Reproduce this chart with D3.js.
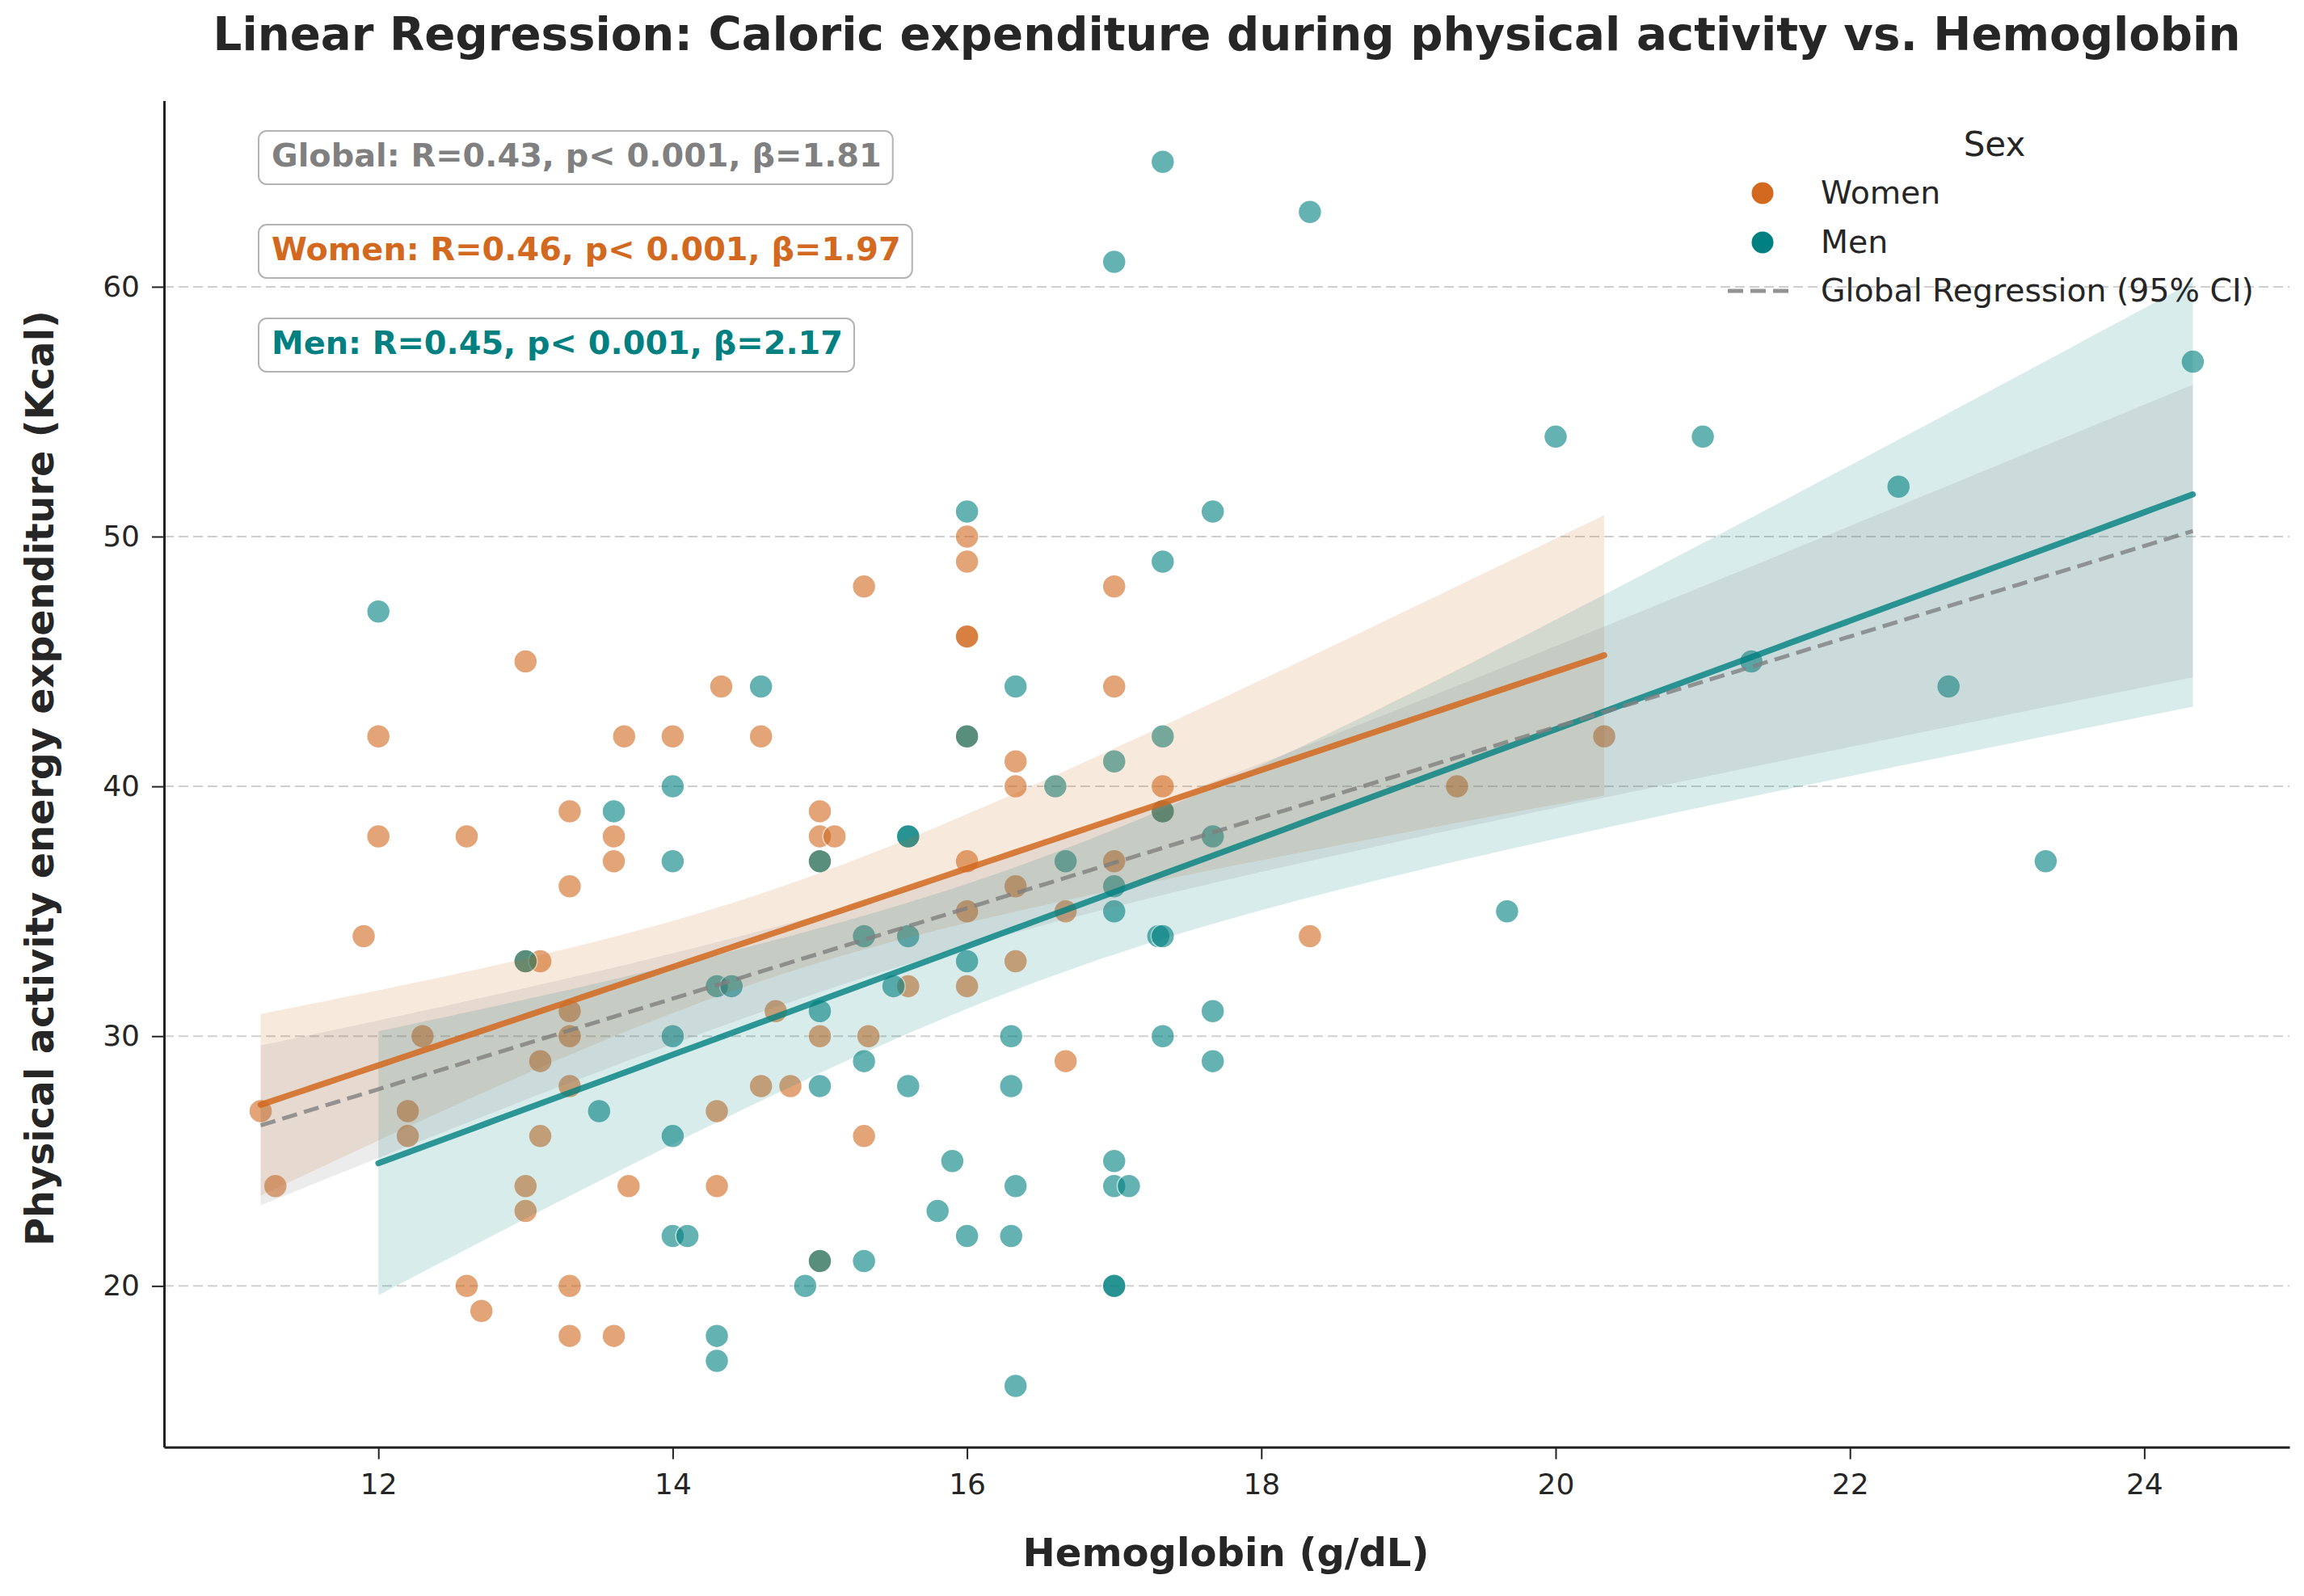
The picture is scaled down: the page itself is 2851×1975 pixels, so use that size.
<!DOCTYPE html>
<html><head><meta charset="utf-8">
<script src="https://cdn.jsdelivr.net/npm/d3@7"></script>
<style>body{margin:0;background:#fff;} svg{display:block;}</style>
</head><body>
<script>
// ---------------- data ----------------
const titleText = "Linear Regression: Caloric expenditure during physical activity vs. Hemoglobin";
const xLabelText = "Hemoglobin (g/dL)";
const yLabelText = "Physical activity energy expenditure (Kcal)";
const xTicks = [12, 14, 16, 18, 20, 22, 24];
const yTicks = [20, 30, 40, 50, 60];
const legendTitle = "Sex";
const sexes = ["Women", "Men"];
const globalLegend = "Global Regression (95% CI)";
const statLabels = [
  "Global: R=0.43, p< 0.001, β=1.81",
  "Women: R=0.46, p< 0.001, β=1.97",
  "Men: R=0.45, p< 0.001, β=2.17"
];

const womenHb = [11.2,11.3,11.9,12,12,12.2,12.2,12.3,12.6,12.6,12.7,13,13,13,13,13.1,13.1,13.1,13.3,13.3,13.3,13.3,13.3,13.3,13.3,13.6,13.6,13.6,13.67,13.7,14,14.3,14.3,14.33,14.6,14.6,14.7,14.8,15,15,15,15,15,15.1,15.3,15.3,15.33,15.6,16,16,16,16,16,16,16,16,16.33,16.33,16.33,16.33,16.67,16.67,17,17,17,17.33,17.33,18.33,19.33,20.33];
const womenKcal = [27,24,34,42,38,27,26,30,38,20,19,45,33,24,23,33,29,26,39,36,31,30,28,20,18,38,37,18,42,24,42,27,24,44,42,28,31,28,39,38,37,30,21,38,48,26,30,32,50,49,46,46,42,37,35,32,41,40,36,33,35,29,48,44,37,40,39,34,40,42];

const menHb = [12,13,13.5,13.6,14,14,14,14,14,14.1,14.3,14.3,14.3,14.4,14.6,14.9,15,15,15,15,15.3,15.3,15.3,15.5,15.6,15.6,15.6,15.6,15.8,15.9,16,16,16,16,16.3,16.3,16.3,16.33,16.33,16.33,16.6,16.67,17,17,17,17,17,17,17,17,17.1,17.3,17.33,17.33,17.33,17.33,17.33,17.33,17.67,17.67,17.67,17.67,18.33,19.67,20,21,21.33,22.33,22.67,23.33,24.33];
const menKcal = [47,33,27,39,40,37,30,26,22,22,32,18,17,32,44,20,37,31,28,21,34,29,21,32,38,38,34,28,23,25,51,42,33,22,30,28,22,44,24,16,40,37,61,41,36,35,25,24,20,20,24,34,34,65,49,42,39,30,51,38,31,29,63,35,54,54,45,52,44,37,57];

// ---------------- styles ----------------
const W = 2851, H = 1975;
const WOMEN = "#D2691E", MEN = "#008080", GLOBAL = "#808080";
const FONT = "DejaVu Sans";
const TXT = "#262626";

const svg = d3.select("body").append("svg").attr("width", W).attr("height", H)
  .style("font-family", FONT);

const allHb = womenHb.concat(menHb), allKcal = womenKcal.concat(menKcal);
const xMin = d3.min(allHb), xMax = d3.max(allHb), yMin = d3.min(allKcal), yMax = d3.max(allKcal);
const xPad = (xMax - xMin) * 0.05, yPad = (yMax - yMin) * 0.05;
const x = d3.scaleLinear().domain([xMin - xPad, xMax + xPad]).range([203, 2833]);
const y = d3.scaleLinear().domain([yMin - yPad, yMax + yPad]).range([1790.7, 124.6]);
const [L, R] = x.range(), [B, T] = y.range();

// grid
svg.append("g").selectAll("line").data(yTicks).join("line")
  .attr("x1", L).attr("x2", R).attr("y1", d => y(d)).attr("y2", d => y(d))
  .attr("stroke", "#cfcfcf").attr("stroke-width", 2).attr("stroke-dasharray", "12,6");

// scatter
function scatter(hb, kcal, color) {
  svg.append("g").selectAll("circle").data(hb.map((h, i) => [h, kcal[i]])).join("circle")
    .attr("cx", d => x(d[0])).attr("cy", d => y(d[1])).attr("r", 14.5)
    .attr("fill", color).attr("stroke", "#fff").attr("stroke-width", 1.5).attr("opacity", 0.6);
}
scatter(womenHb, womenKcal, WOMEN);
scatter(menHb, menKcal, MEN);

// regression
function linfit(xs, ys) {
  const n = xs.length, mx = d3.mean(xs), my = d3.mean(ys);
  let sxx = 0, sxy = 0;
  for (let i = 0; i < n; i++) { sxx += (xs[i] - mx) ** 2; sxy += (xs[i] - mx) * (ys[i] - my); }
  const b = sxy / sxx, a = my - b * mx;
  let sse = 0;
  for (let i = 0; i < n; i++) sse += (ys[i] - a - b * xs[i]) ** 2;
  const s = Math.sqrt(sse / (n - 2)), t = 1.96 + 2.4 / (n - 2);
  const x0 = d3.min(xs), x1 = d3.max(xs);
  return d3.range(101).map(i => {
    const g = x0 + (x1 - x0) * i / 100, yh = a + b * g;
    const h = t * s * Math.sqrt(1 / n + (g - mx) ** 2 / sxx);
    return { x: g, y: yh, lo: yh - h, hi: yh + h };
  });
}
const fits = [
  { d: linfit(womenHb, womenKcal), c: WOMEN, dash: null, w: 7.5, op: 0.85 },
  { d: linfit(menHb, menKcal), c: MEN, dash: null, w: 7.5, op: 0.8 },
  { d: linfit(allHb, allKcal), c: GLOBAL, dash: "19,9", w: 5, op: 0.8 }
];
const area = d3.area().x(d => x(d.x)).y0(d => y(d.lo)).y1(d => y(d.hi));
const line = d3.line().x(d => x(d.x)).y(d => y(d.y));
fits.forEach(f => svg.append("path").attr("d", area(f.d)).attr("fill", f.c).attr("fill-opacity", 0.15));
fits.forEach(f => svg.append("path").attr("d", line(f.d)).attr("fill", "none")
  .attr("stroke", f.c).attr("stroke-width", f.w).attr("stroke-opacity", f.op)
  .attr("stroke-dasharray", f.dash).attr("stroke-linecap", f.dash ? "butt" : "round"));

// axes
const gx = svg.append("g").attr("transform", `translate(0,${B})`)
  .call(d3.axisBottom(x).tickValues(xTicks).tickSize(15).tickSizeOuter(0));
const gy = svg.append("g").attr("transform", `translate(${L},0)`)
  .call(d3.axisLeft(y).tickValues(yTicks).tickSize(15).tickSizeOuter(0));
[gx, gy].forEach(g => {
  g.select(".domain").attr("stroke", "#222").attr("stroke-width", 3);
  g.selectAll(".tick line").attr("stroke", "#222").attr("stroke-width", 2);
  g.selectAll(".tick text").attr("fill", TXT).attr("font-size", 36).attr("font-family", FONT);
});
gx.selectAll(".tick text").attr("y", 58).attr("dy", 0);
gy.selectAll(".tick text").attr("x", -30);

function fit(sel, target) {
  const w = sel.node().getComputedTextLength();
  sel.attr("font-size", parseFloat(sel.attr("font-size")) * target / w);
}

// title & labels
const tt = svg.append("text").attr("x", 1518).attr("y", 62).attr("text-anchor", "middle")
  .attr("font-weight", "bold").attr("font-size", 50).attr("fill", TXT).text(titleText);
fit(tt, 2509);
const xl = svg.append("text").attr("x", 1517).attr("y", 1938).attr("text-anchor", "middle")
  .attr("font-weight", "bold").attr("font-size", 47).attr("fill", TXT).text(xLabelText);
fit(xl, 503);
const yl = svg.append("text").attr("transform", "translate(66,963) rotate(-90)").attr("text-anchor", "middle")
  .attr("font-weight", "bold").attr("font-size", 47).attr("fill", TXT).text(yLabelText);
fit(yl, 1158);

// stat boxes
const statColors = [GLOBAL, WOMEN, MEN];
const baselines = [206, 322, 438];
let statSize = null;
statLabels.forEach((s, i) => {
  const g = svg.append("g");
  const rect = g.append("rect");
  const t = g.append("text").attr("x", 336).attr("y", baselines[i]).attr("font-weight", "bold")
    .attr("font-size", statSize || 38).attr("fill", statColors[i]).text(s);
  if (i === 0) { fit(t, 755); statSize = parseFloat(t.attr("font-size")); }
  const w = t.node().getComputedTextLength();
  rect.attr("x", 320).attr("y", baselines[i] - 44).attr("width", w + 30).attr("height", 66)
    .attr("rx", 10).attr("fill", "#fff").attr("fill-opacity", 0.85)
    .attr("stroke", "#b3b3b3").attr("stroke-width", 2);
});

// legend
svg.append("text").attr("x", 2468).attr("y", 193).attr("text-anchor", "middle")
  .attr("font-size", 42).attr("fill", TXT).text(legendTitle);
const gl = svg.append("text").attr("x", 2253).attr("y", 373).attr("font-size", 38).attr("fill", TXT).text(globalLegend);
fit(gl, 536);
const legSize = parseFloat(gl.attr("font-size"));
const legColors = [WOMEN, MEN];
sexes.forEach((s, i) => {
  const cy = 239 + i * 61;
  svg.append("circle").attr("cx", 2181).attr("cy", cy).attr("r", 13.5).attr("fill", legColors[i]);
  svg.append("text").attr("x", 2253).attr("y", cy + 13).attr("font-size", legSize).attr("fill", TXT).text(s);
});
svg.append("line").attr("x1", 2138).attr("x2", 2220).attr("y1", 360).attr("y2", 360)
  .attr("stroke", GLOBAL).attr("stroke-width", 5).attr("stroke-opacity", 0.85).attr("stroke-dasharray", "19,9");
</script>
</body></html>
